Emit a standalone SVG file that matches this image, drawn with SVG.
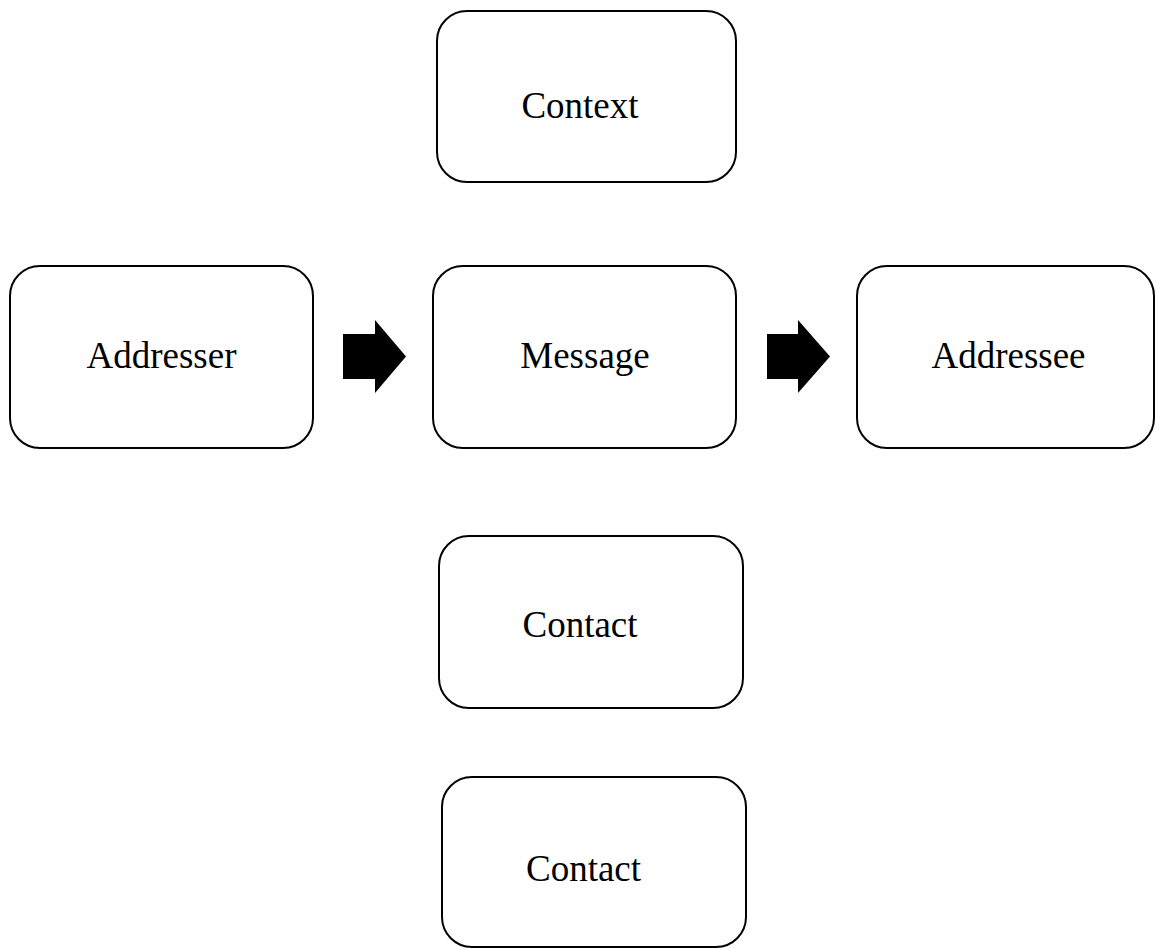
<svg xmlns="http://www.w3.org/2000/svg" width="1156" height="949" viewBox="0 0 1156 949">
  <style>
    .box { fill: #ffffff; stroke: #000000; stroke-width: 2; }
    .label { font-family: "Liberation Serif", "Times New Roman", serif; font-size: 37px; fill: #000000; text-anchor: middle; }
    .arrow { fill: #000000; stroke: none; }
  </style>
  <rect x="0" y="0" width="1156" height="949" fill="#ffffff"/>

  <g id="context">
    <rect class="box" x="437" y="11" width="299" height="171" rx="30" ry="30"/>
    <text class="label" x="580" y="118">Context</text>
  </g>

  <g id="addresser">
    <rect class="box" x="10" y="266" width="303" height="182" rx="30" ry="30"/>
    <text class="label" x="161.5" y="368">Addresser</text>
  </g>

  <g id="message">
    <rect class="box" x="433" y="266" width="303" height="182" rx="30" ry="30"/>
    <text class="label" x="585" y="368">Message</text>
  </g>

  <g id="addressee">
    <rect class="box" x="857" y="266" width="297" height="182" rx="30" ry="30"/>
    <text class="label" x="1008.5" y="368">Addressee</text>
  </g>

  <g id="contact-1">
    <rect class="box" x="439" y="536" width="304" height="172" rx="30" ry="30"/>
    <text class="label" x="580" y="637">Contact</text>
  </g>

  <g id="contact-2">
    <rect class="box" x="442" y="777" width="304" height="170" rx="30" ry="30"/>
    <text class="label" x="583.5" y="881">Contact</text>
  </g>

  <g id="connectors">
    <!-- block arrow: Addresser to Message -->
    <polygon class="arrow" points="343,334 375,334 375,320 406,356.5 375,393 375,379 343,379"/>
    <!-- block arrow: Message to Addressee -->
    <polygon class="arrow" points="767,334 798,334 798,320 830,356.5 798,393 798,379 767,379"/>
  </g>
</svg>
